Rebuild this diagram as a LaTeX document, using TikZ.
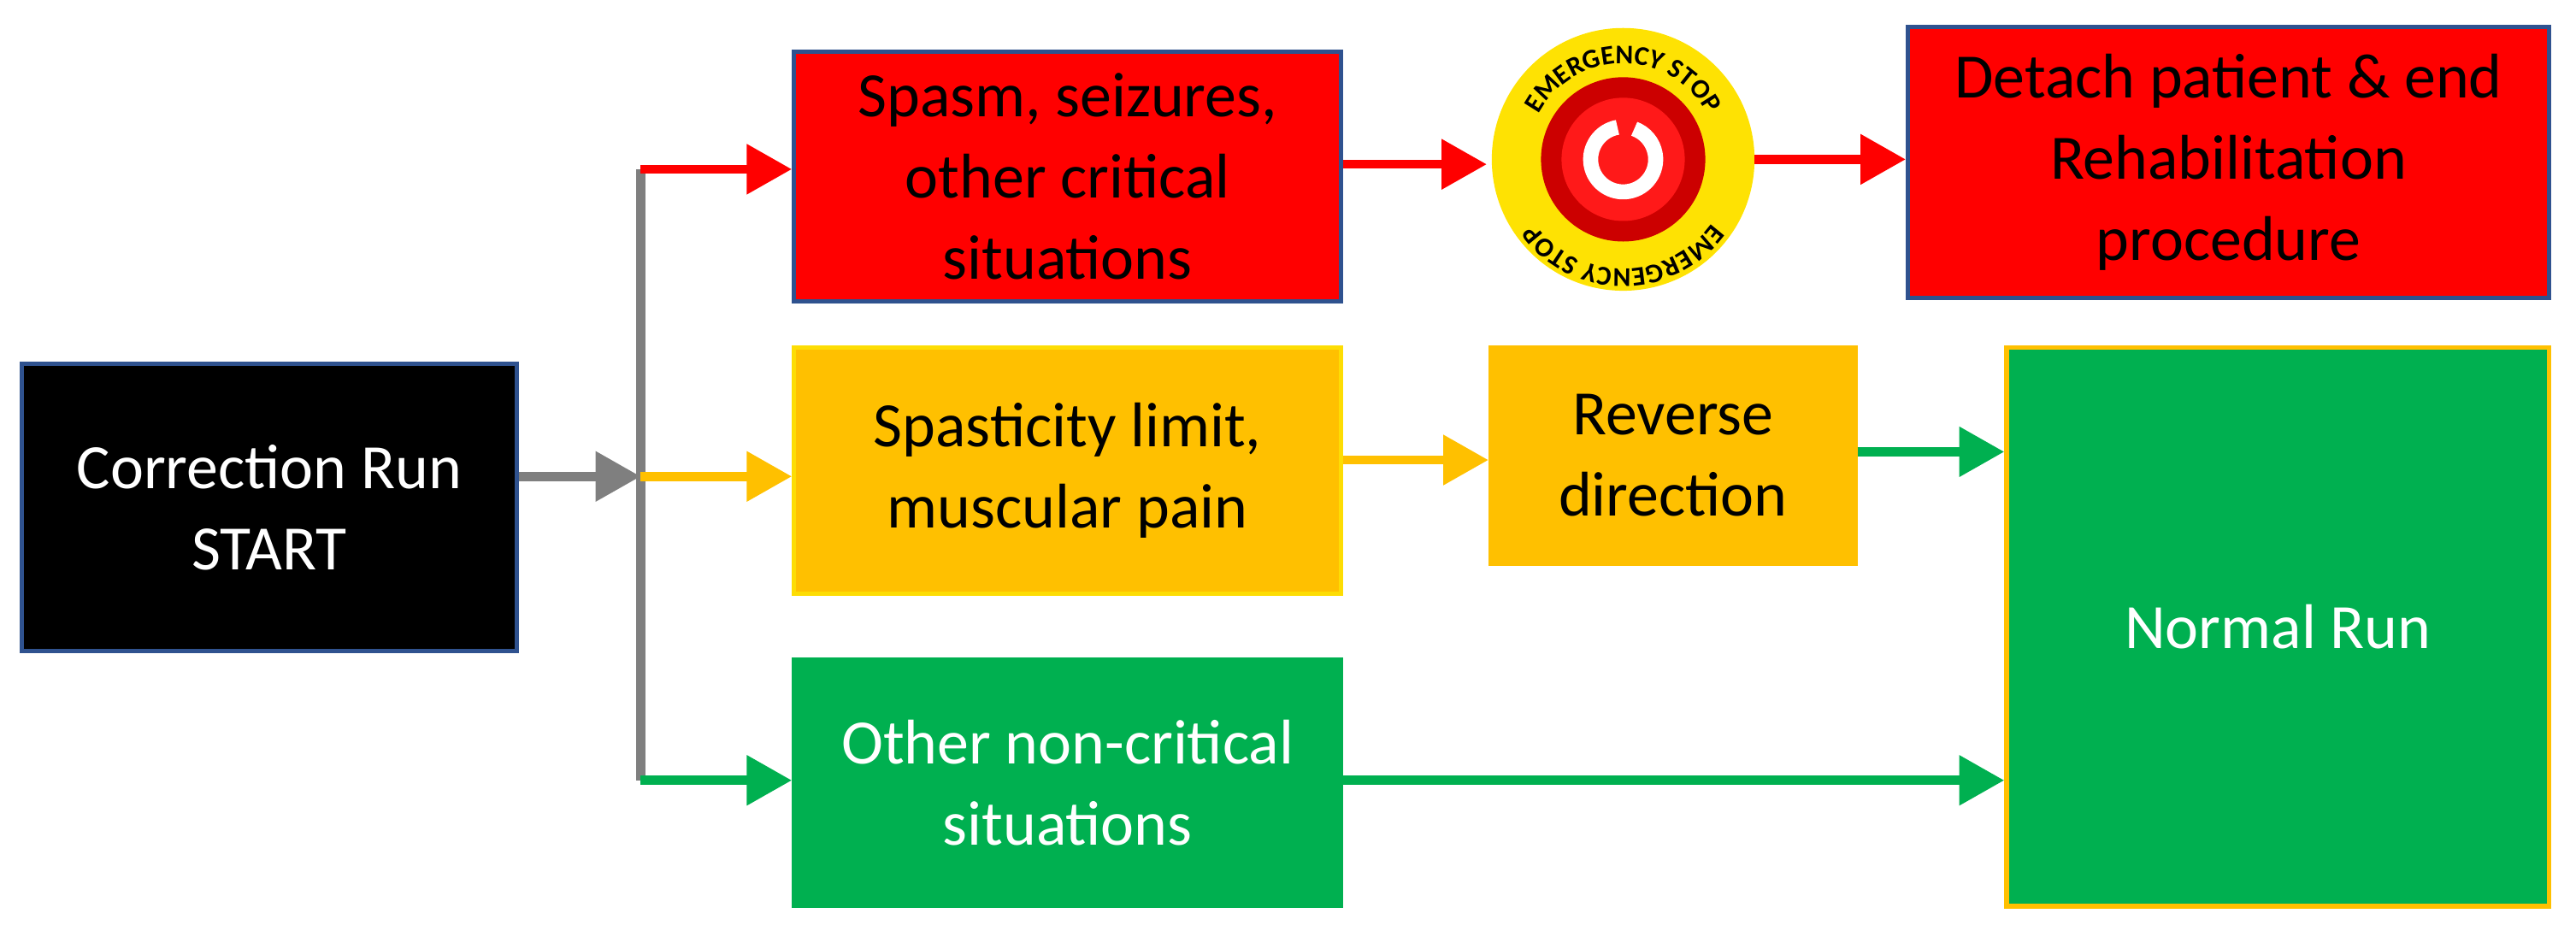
\documentclass[tikz,border=0pt]{standalone}
\usepackage{fontspec}
\setmainfont{Carlito}
\usetikzlibrary{arrows.meta,decorations.text}
\definecolor{myred}{RGB}{255,0,0}
\definecolor{myyel}{RGB}{255,192,0}
\definecolor{mygrn}{RGB}{0,176,80}
\definecolor{myblue}{RGB}{47,82,143}
\definecolor{mygray}{RGB}{127,127,127}
\begin{document}
\begin{tikzpicture}[x=0.0192cm,y=-0.0192cm,
  box/.style={draw,line width=1.5pt,align=center,inner sep=0pt,anchor=north west,font=\fontsize{21}{27}\selectfont},
  arr/.style={line width=3pt,-{Triangle[length=15pt,width=16pt]}}]
\useasboundingbox (0,0) rectangle (1568,570);
\node[box,fill=black,draw=myblue,text=white,minimum width=5.78cm,minimum height=3.36cm] (start) at (12,220) {Correction Run\\START};
\node[box,fill=myred,draw=myblue,minimum width=6.39cm,minimum height=2.92cm] (r1) at (482,30) {Spasm, seizures,\\other critical\\situations};
\node[box,fill=myred,draw=myblue,minimum width=7.49cm,minimum height=3.17cm] (r2) at (1160,15) {Detach patient \& end\\Rehabilitation\\procedure};
\node[box,fill=myyel,draw=yellow!80!orange,minimum width=6.39cm,minimum height=2.88cm] (y1) at (482,210) {Spasticity limit,\\muscular pain};
\node[box,fill=myyel,draw=myyel,minimum width=4.26cm,minimum height=2.53cm] (rev) at (906,210) {Reverse\\direction};
\node[box,fill=mygrn,draw=mygrn,text=white,minimum width=6.39cm,minimum height=2.88cm] (g1) at (482,400) {Other non-critical\\situations};
\node[box,fill=mygrn,draw=myyel,text=white,minimum width=6.34cm,minimum height=6.53cm] (nr) at (1220,210) {Normal Run};
% emergency stop
\node[circle,fill=yellow!85!orange,minimum size=3.07cm,inner sep=0pt] (es) at (988,97) {};
\fill[red!80!black] (es.center) circle (0.96cm);
\fill[red!90!white] (es.center) circle (0.72cm);
\draw[white,line width=5pt] ([shift={(100:0.38cm)}]es.center) arc[start angle=100,end angle=430,radius=0.38cm];
\path[decorate,decoration={text along path,text={|\fontsize{9}{10}\bfseries|EMERGENCY STOP},text align=center}] ([shift={(165:1.12cm)}]es.center) arc[start angle=165,end angle=15,radius=1.12cm];
\path[decorate,decoration={text along path,text={|\fontsize{9}{10}\bfseries|EMERGENCY STOP},text align=center}] ([shift={(-15:1.28cm)}]es.center) arc[start angle=-15,end angle=-165,radius=1.28cm];
% connectors
\coordinate (j) at (390,290);
\coordinate (jt) at (390,103);
\coordinate (jb) at (390,475);
\draw[arr,mygray] (start.east |- j) -- (j);
\draw[mygray,line width=3pt] (jt) -- (jb);
\draw[arr,myred] (jt) -- (r1.west |- jt);
\draw[arr,myyel] (j) -- (y1.west |- j);
\draw[arr,mygrn] (jb) -- (g1.west |- jb);
\draw[arr,myred] (r1.east |- 0,100) -- (905,100);
\draw[arr,myred] (1068,97) -- (r2.west |- 0,97);
\draw[arr,myyel] (y1.east |- 0,280) -- (rev.west |- 0,280);
\draw[arr,mygrn] (rev.east |- 0,275) -- (nr.west |- 0,275);
\draw[arr,mygrn] (g1.east |- 0,475) -- (nr.west |- 0,475);
\end{tikzpicture}
\end{document}
